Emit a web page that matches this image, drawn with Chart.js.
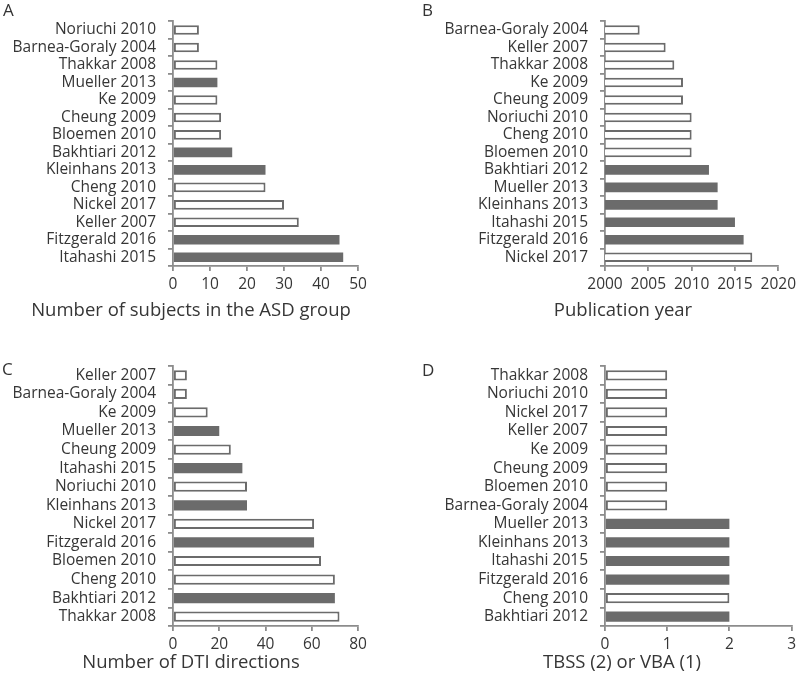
<!DOCTYPE html>
<html>
<head>
<meta charset="utf-8">
<script src="https://cdn.jsdelivr.net/npm/chart.js@4.4.1/dist/chart.umd.min.js"></script>
<style>
  html, body { margin: 0; padding: 0; background: #fff; }
  body { width: 800px; height: 673px; position: relative; overflow: hidden; }
  .panel { position: absolute; }
  .letter { position: absolute; font-family: "Open Sans", sans-serif; font-size: 17px; color: #333; line-height: 1; }
</style>
</head>
<body>
<div class="panel" style="left:0;top:0;width:400px;height:330px"><canvas id="cA"></canvas></div>
<div class="panel" style="left:380px;top:0;width:420px;height:330px"><canvas id="cB"></canvas></div>
<div class="panel" style="left:0;top:330px;width:400px;height:345px"><canvas id="cC"></canvas></div>
<div class="panel" style="left:380px;top:330px;width:420px;height:345px"><canvas id="cD"></canvas></div>
<div class="letter" style="left:3px;top:1px">A</div>
<div class="letter" style="left:422px;top:1px">B</div>
<div class="letter" style="left:2px;top:360px">C</div>
<div class="letter" style="left:422px;top:361px">D</div>
<script>
// ---- data ----
const studiesA = ['Noriuchi 2010','Barnea-Goraly 2004','Thakkar 2008','Mueller 2013','Ke 2009','Cheung 2009','Bloemen 2010','Bakhtiari 2012','Kleinhans 2013','Cheng 2010','Nickel 2017','Keller 2007','Fitzgerald 2016','Itahashi 2015'];
const subjectsA = [7, 7, 12, 12, 12, 13, 13, 16, 25, 25, 30, 34, 45, 46];

const studiesB = ['Barnea-Goraly 2004','Keller 2007','Thakkar 2008','Ke 2009','Cheung 2009','Noriuchi 2010','Cheng 2010','Bloemen 2010','Bakhtiari 2012','Mueller 2013','Kleinhans 2013','Itahashi 2015','Fitzgerald 2016','Nickel 2017'];
const yearsB = [2004, 2007, 2008, 2009, 2009, 2010, 2010, 2010, 2012, 2013, 2013, 2015, 2016, 2017];

const studiesC = ['Keller 2007','Barnea-Goraly 2004','Ke 2009','Mueller 2013','Cheung 2009','Itahashi 2015','Noriuchi 2010','Kleinhans 2013','Nickel 2017','Fitzgerald 2016','Bloemen 2010','Cheng 2010','Bakhtiari 2012','Thakkar 2008'];
const directionsC = [6, 6, 15, 20, 25, 30, 32, 32, 61, 61, 64, 70, 70, 72];

const studiesD = ['Thakkar 2008','Noriuchi 2010','Nickel 2017','Keller 2007','Ke 2009','Cheung 2009','Bloemen 2010','Barnea-Goraly 2004','Mueller 2013','Kleinhans 2013','Itahashi 2015','Fitzgerald 2016','Cheng 2010','Bakhtiari 2012'];
const methodD = [1, 1, 1, 1, 1, 1, 1, 1, 2, 2, 2, 2, 2, 2];

// studies drawn with filled bars
const filledStudies = ['Mueller 2013','Bakhtiari 2012','Kleinhans 2013','Fitzgerald 2016','Itahashi 2015'];

// ---- styling ----
const BAR = '#6b6b6b';
const AXIS = '#8c8c8c';
const TXT = '#363636';
const FONT = '"Open Sans", sans-serif';

function makeChart(id, labels, values, cfg) {
  return new Chart(document.getElementById(id), {
    type: 'bar',
    data: {
      labels: labels,
      datasets: [{
        data: values,
        backgroundColor: labels.map(l => filledStudies.includes(l) ? BAR : '#ffffff'),
        borderColor: BAR,
        borderWidth: labels.map(l => filledStudies.includes(l) ? 0 : 2),
        borderSkipped: false,
        barPercentage: 0.55,
        categoryPercentage: 1.0
      }]
    },
    options: {
      indexAxis: 'y',
      responsive: true,
      maintainAspectRatio: false,
      animation: false,
      layout: { padding: cfg.pad },
      plugins: {
        legend: { display: false },
        tooltip: { enabled: false },
        title: {
          display: true,
          position: 'bottom',
          text: cfg.title,
          color: TXT,
          font: { family: FONT, size: 18.5, weight: 'normal', lineHeight: 1.2 },
          padding: { top: 3, bottom: 0 }
        }
      },
      scales: {
        x: {
          min: cfg.min, max: cfg.max,
          afterFit: s => { s.height = cfg.xh; },
          ticks: { stepSize: cfg.step, color: TXT, font: { family: FONT, size: 15.5 }, padding: 4, maxRotation: 0,
                   callback: v => String(v) },
          grid: { display: true, drawOnChartArea: false, drawTicks: true, tickLength: 5, color: AXIS, lineWidth: 1.8 },
          border: { display: true, color: AXIS, width: 1.8 }
        },
        y: {
          afterFit: s => { s.width = cfg.yw; s._computeLabelArea = () => undefined; },
          ticks: { color: TXT, font: { family: FONT, size: 15.5 }, padding: 12, autoSkip: false },
          grid: { display: true, offset: true, drawOnChartArea: false, drawTicks: true, tickLength: 5, color: AXIS, lineWidth: 1.8 },
          border: { display: true, color: AXIS, width: 1.8 }
        }
      }
    }
  });
}

makeChart('cA', studiesA, subjectsA, {
  title: 'Number of subjects in the ASD group', min: 0, max: 50, step: 10,
  pad: { left: 24, right: 42, top: 5, bottom: 7.9 }, yw: 149, xh: 30.9
});
makeChart('cB', studiesB, yearsB, {
  title: 'Publication year', min: 2000, max: 2020, step: 5,
  pad: { left: 85, right: 19, top: 5, bottom: 7.9 }, yw: 140, xh: 30.9
});
makeChart('cC', studiesC, directionsC, {
  title: 'Number of DTI directions', min: 0, max: 80, step: 20,
  pad: { left: 24, right: 42, top: 36, bottom: 0.9 }, yw: 149, xh: 22.9
});
makeChart('cD', studiesD, methodD, {
  title: 'TBSS (2) or VBA (1)', min: 0, max: 3, step: 1,
  pad: { left: 68, right: 4, top: 36, bottom: 0.9 }, yw: 157, xh: 22.9
});
</script>
</body>
</html>
